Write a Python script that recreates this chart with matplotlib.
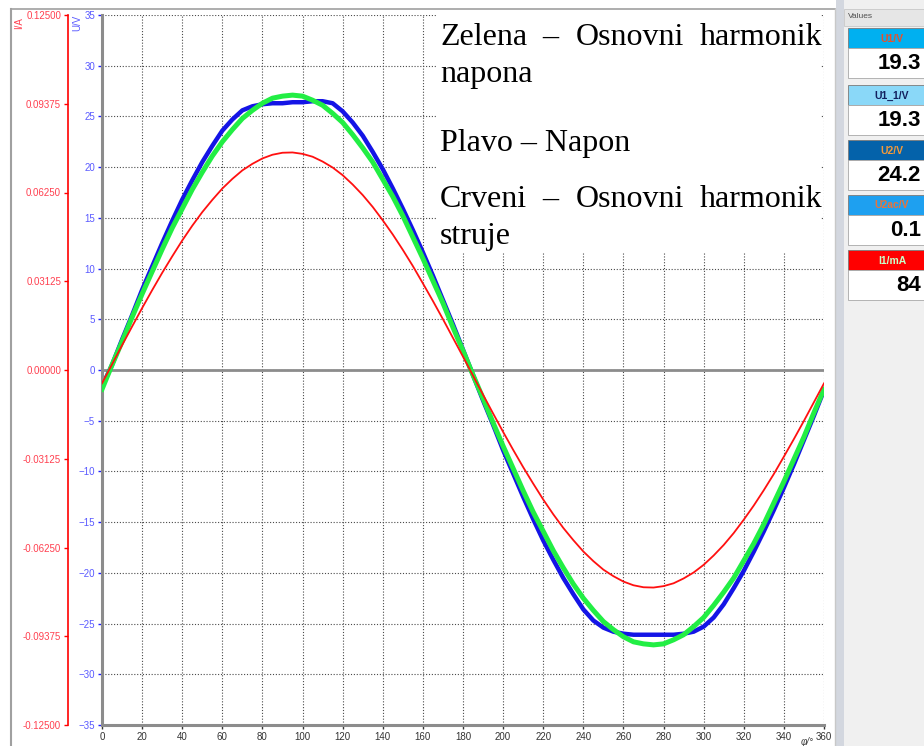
import matplotlib.pyplot as plt
from matplotlib.patches import Rectangle
from matplotlib.lines import Line2D

# --- data (phi in degrees, every 5 degrees) ---
phi = list(range(0, 361, 5))

# blue - measured voltage (U/V), flattened top and bottom
u_napon = [-1.6, 0.5, 3.0, 5.4, 7.9, 10.2, 12.5, 14.7, 16.8, 18.7, 20.5, 22.1, 23.6, 24.7, 25.6, 26.0,
           26.2, 26.3, 26.3, 26.4, 26.4, 26.5, 26.5, 26.3, 25.5, 24.4, 23.1, 21.5, 19.8, 17.9, 15.9, 13.8,
           11.6, 9.3, 6.9, 4.5, 2.0, -0.5, -3.0, -5.4, -7.9, -10.2, -12.5, -14.7, -16.8, -18.7, -20.5, -22.1,
           -23.6, -24.7, -25.4, -25.8, -26.0, -26.1, -26.1, -26.1, -26.1, -26.1, -26.0, -25.8, -25.3, -24.4,
           -23.1, -21.5, -19.8, -17.9, -15.9, -13.8, -11.6, -9.3, -6.9, -4.5, -2.0]

# green - fundamental harmonic of voltage (U/V)
u_osnovni = [-1.9, 0.5, 2.8, 5.2, 7.5, 9.7, 11.9, 14.0, 15.9, 17.8, 19.5, 21.1, 22.5, 23.7, 24.8, 25.6,
             26.3, 26.8, 27.0, 27.1, 27.0, 26.6, 26.1, 25.3, 24.4, 23.2, 21.9, 20.5, 18.8, 17.1, 15.2, 13.1,
             11.0, 8.8, 6.6, 4.2, 1.9, -0.5, -2.8, -5.2, -7.5, -9.7, -11.9, -14.0, -15.9, -17.8, -19.5, -21.1,
             -22.5, -23.7, -24.8, -25.6, -26.3, -26.8, -27.0, -27.1, -27.0, -26.6, -26.1, -25.3, -24.4, -23.2,
             -21.9, -20.5, -18.8, -17.1, -15.2, -13.1, -11.0, -8.8, -6.6, -4.2, -1.9]

# red - fundamental harmonic of current (I/A)
i_osnovni = [-0.0047, 0.0020, 0.0087, 0.0153, 0.0218, 0.0281, 0.0342, 0.0400, 0.0456, 0.0508, 0.0556,
             0.0599, 0.0639, 0.0673, 0.0703, 0.0726, 0.0745, 0.0758, 0.0765, 0.0766, 0.0761, 0.0751, 0.0734,
             0.0713, 0.0686, 0.0653, 0.0616, 0.0574, 0.0527, 0.0477, 0.0423, 0.0366, 0.0305, 0.0243, 0.0179,
             0.0113, 0.0047, -0.0020, -0.0087, -0.0153, -0.0218, -0.0281, -0.0342, -0.0400, -0.0456, -0.0508,
             -0.0556, -0.0599, -0.0639, -0.0673, -0.0703, -0.0726, -0.0745, -0.0758, -0.0765, -0.0766, -0.0761,
             -0.0751, -0.0734, -0.0713, -0.0686, -0.0653, -0.0616, -0.0574, -0.0527, -0.0477, -0.0423, -0.0366,
             -0.0305, -0.0243, -0.0179, -0.0113, -0.0047]

x_ticks = list(range(0, 361, 20))
u_ticks = list(range(-35, 36, 5))
i_ticks = [-0.125, -0.09375, -0.0625, -0.03125, 0.0, 0.03125, 0.0625, 0.09375, 0.125]

# right hand "Values" panel
val_names = ['U1/V', 'U1_1/V', 'U2/V', 'U2ac/V', 'I1/mA']
val_values = ['19.3', '19.3', '24.2', '0.1', '84']
val_head_colors = ['#00b0f0', '#8ad8f8', '#0462aa', '#1ea0f0', '#ff0000']
val_text_colors = ['#e8502a', '#12205e', '#f39a3a', '#e8743a', '#c8ffc8']

W, H = 924, 746
plt.rcParams['font.family'] = ['Liberation Sans', 'DejaVu Sans']

fig = plt.figure(figsize=(W / 100, H / 100), dpi=100)
fig.patch.set_facecolor('white')


def fx(x):
    return x / W


def fy(y):
    return 1 - y / H


def box(x, y, w, h, fc, ec='none', lw=0.8, z=1):
    fig.patches.append(Rectangle((fx(x), fy(y + h)), w / W, h / H, transform=fig.transFigure,
                                 facecolor=fc, edgecolor=ec, linewidth=lw, zorder=z))


# main axes (voltage)
ax = fig.add_axes([fx(102), fy(725), 722 / W, 710 / H])
ax.set_xlim(0, 360)
ax.set_ylim(-35, 35)
ax.set_axisbelow(True)
ax.grid(True, color='#4a4a4a', linestyle=(0, (1, 1.6)), linewidth=0.8)
ax.axhline(0, color='#8c8c8c', linewidth=2, zorder=1.5)

ax.plot(phi, u_napon, color='#1414e6', linewidth=3.2, zorder=2, solid_joinstyle='round')
ax.plot(phi, u_osnovni, color='#22ee44', linewidth=3.6, zorder=3, solid_joinstyle='round')

ax.set_xticks(x_ticks)
ax.set_yticks(u_ticks)
ax.tick_params(axis='x', colors='#333333', labelsize=7, length=3, width=1, pad=2)
ax.tick_params(axis='y', color='#2020ff', labelcolor='#5a5aff', labelsize=7, length=3, width=1, pad=2)
for s in ['top', 'right']:
    ax.spines[s].set_visible(False)
for s in ['left', 'bottom']:
    ax.spines[s].set_color('#8c8c8c')
    ax.spines[s].set_linewidth(2.2)

# second axis for the current, spine moved to the left
ax2 = ax.twinx()
ax2.set_ylim(-0.125, 0.125)
ax2.plot(phi, i_osnovni, color='#ff1010', linewidth=1.3, zorder=4)
ax2.yaxis.tick_left()
ax2.set_yticks(i_ticks)
ax2.set_yticklabels([f'{v:.5f}' for v in i_ticks])
ax2.spines['left'].set_position(('outward', 24.5))
ax2.spines['left'].set_color('#ff0000')
ax2.spines['left'].set_linewidth(1.2)
for s in ['top', 'right', 'bottom']:
    ax2.spines[s].set_visible(False)
ax2.tick_params(axis='y', color='#ff0000', labelcolor='#ff4050', labelsize=7, length=3, width=1, pad=2)

fig.text(fx(19), fy(23), 'I/A', rotation=90, ha='center', va='center', color='#ff4050', fontsize=7)
fig.text(fx(77), fy(23), 'U/V', rotation=90, ha='center', va='center', color='#5a5aff', fontsize=7)
fig.text(fx(814), fy(742), 'φ/°', ha='right', va='center', color='#444444', fontsize=7, style='italic')

# frame lines of the screenshot
fig.lines.append(Line2D([fx(11), fx(11)], [0, fy(9)], transform=fig.transFigure, color='#a0a0a0', lw=1.5))
fig.lines.append(Line2D([fx(11), fx(835)], [fy(9), fy(9)], transform=fig.transFigure, color='#a0a0a0', lw=1.2))
fig.lines.append(Line2D([fx(835), fx(835)], [0, fy(9)], transform=fig.transFigure, color='#c8c8c8', lw=1))

# legend text box
box(437, 14, 384, 238, 'white', z=1)
tkw = dict(fontsize=23, color='black', family=['Liberation Serif', 'DejaVu Serif'], va='baseline', zorder=5)
fig.text(fx(440), fy(45), 'Zelena', ha='left', **tkw)
fig.text(fx(550), fy(45), '–', ha='center', **tkw)
fig.text(fx(576), fy(45), 'Osnovni', ha='left', **tkw)
fig.text(fx(822), fy(45), 'harmonik', ha='right', **tkw)
fig.text(fx(440), fy(82), 'napona', ha='left', **tkw)
fig.text(fx(440), fy(151), 'Plavo – Napon', ha='left', **tkw)
fig.text(fx(440), fy(207), 'Crveni', ha='left', **tkw)
fig.text(fx(550), fy(207), '–', ha='center', **tkw)
fig.text(fx(576), fy(207), 'Osnovni', ha='left', **tkw)
fig.text(fx(822), fy(207), 'harmonik', ha='right', **tkw)
fig.text(fx(440), fy(244), 'struje', ha='left', **tkw)

# values panel on the right
box(836, 0, 8, H, '#d3d7df', z=1)
box(844, 0, 80, H, '#f0f0f0', z=1)
box(844, 9, 80, 17, '#e6e6e6', ec='#c8c8c8', lw=0.6, z=1)
fig.text(fx(848), fy(17), 'Values', ha='left', va='center', color='#505050', fontsize=6)
tops = [28, 85, 140, 195, 250]
for name, val, hc, tc, t in zip(val_names, val_values, val_head_colors, val_text_colors, tops):
    box(848, t, 90, 20, hc, ec='#7a7a7a', lw=0.6, z=2)
    box(848, t + 20, 90, 30, 'white', ec='#a8a8a8', lw=0.6, z=2)
    fig.text(fx(892), fy(t + 10.5), name, ha='center', va='center', color=tc, fontsize=7.5,
             fontweight='bold', zorder=3)
    fig.text(fx(921), fy(t + 35.5), val, ha='right', va='center', color='black', fontsize=16,
             fontweight='bold', zorder=3)

fig.savefig('out.png', dpi=100)
